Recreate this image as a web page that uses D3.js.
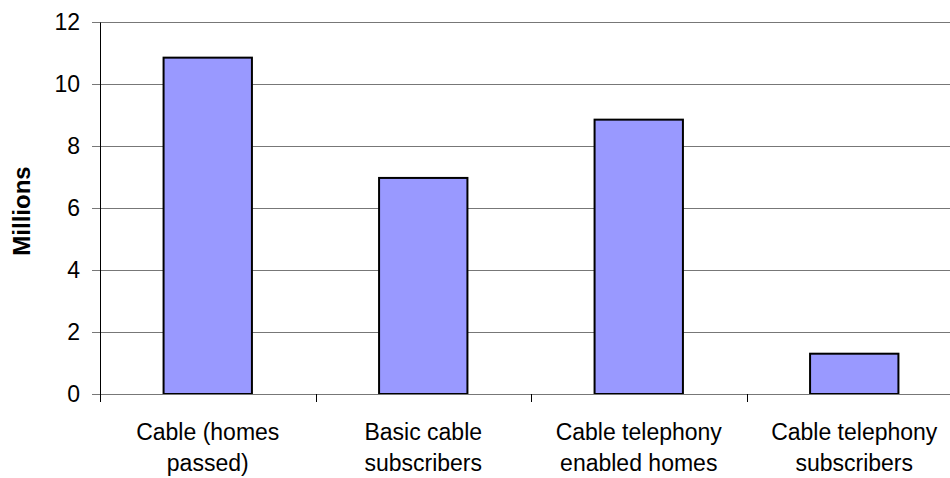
<!DOCTYPE html>
<html>
<head>
<meta charset="utf-8">
<script src="https://cdn.jsdelivr.net/npm/d3@7"></script>
<style>
  body { margin: 0; background: #fff; }
  text { font-family: "Liberation Sans", Arial, sans-serif; }
</style>
</head>
<body>
<div id="chart"></div>
<script>
// categories (split into lines) and values in millions
const categories = [
    ["Cable (homes", "passed)"],
    ["Basic cable", "subscribers"],
    ["Cable telephony", "enabled homes"],
    ["Cable telephony", "subscribers"]
];
const values = [10.85, 6.97, 8.85, 1.3];
const yTicks = [0, 2, 4, 6, 8, 10, 12];

const W = 950, H = 478;
const margin = {top: 22, left: 100, bottom: 84};
const plotW = 862, plotH = H - margin.top - margin.bottom;
const fs = 23;

const svg = d3.select("#chart")
    .append("svg")
    .attr("width", W)
    .attr("height", H);

const g = svg.append("g")
    .attr("transform", `translate(${margin.left},${margin.top})`);

const x = d3.scaleBand()
    .domain(d3.range(categories.length))
    .range([0, plotW])
    .paddingInner(0.59)
    .paddingOuter(0.295);

const y = d3.scaleLinear()
    .domain([0, 12])
    .range([plotH, 0]);

// gridlines
g.append("g")
    .selectAll("line")
    .data(yTicks.filter(d => d > 0))
    .join("line")
    .attr("x1", 0)
    .attr("x2", W)
    .attr("y1", d => Math.round(y(d)) + 0.5)
    .attr("y2", d => Math.round(y(d)) + 0.5)
    .attr("stroke", "#777")
    .attr("stroke-width", 1);

// bars
g.append("g")
    .selectAll("rect")
    .data(values)
    .join("rect")
    .attr("x", (d, i) => x(i))
    .attr("y", d => y(d))
    .attr("width", x.bandwidth())
    .attr("height", d => y(0) - y(d))
    .attr("fill", "#9999ff")
    .attr("stroke", "#000")
    .attr("stroke-width", 2);

// y axis
const yAxis = g.append("g")
    .call(d3.axisLeft(y).tickValues(yTicks).tickSize(8).tickPadding(12).tickSizeOuter(0));
yAxis.attr("font-size", fs).attr("font-family", null);
yAxis.select(".domain").attr("stroke", "#000");
yAxis.selectAll(".tick line").attr("stroke", "#777");
yAxis.selectAll("text").attr("fill", "#000");

// x axis: ticks at category boundaries
const step = plotW / categories.length;
const xb = g.append("g").attr("transform", `translate(0,${plotH})`);
xb.append("line")
    .attr("x1", 0).attr("x2", W)
    .attr("y1", 0.5).attr("y2", 0.5)
    .attr("stroke", "#777");
xb.selectAll(".xt")
    .data(d3.range(categories.length + 1))
    .join("line")
    .attr("class", "xt")
    .attr("x1", d => Math.round(d * step) + 0.5)
    .attr("x2", d => Math.round(d * step) + 0.5)
    .attr("y1", 0)
    .attr("y2", 8)
    .attr("stroke", "#000");

xb.selectAll(".xl")
    .data(categories)
    .join("text")
    .attr("class", "xl")
    .attr("text-anchor", "middle")
    .attr("font-size", fs)
    .attr("x", (d, i) => x(i) + x.bandwidth() / 2)
    .selectAll("tspan")
    .data(d => d)
    .join("tspan")
    .attr("x", function () { return d3.select(this.parentNode).attr("x"); })
    .attr("y", (d, i) => 46 + i * 31)
    .text(d => d);

// y label
svg.append("text")
    .attr("transform", `translate(30,211) rotate(-90)`)
    .attr("text-anchor", "middle")
    .attr("font-size", 24)
    .attr("font-weight", "bold")
    .text("Millions");
</script>
</body>
</html>
